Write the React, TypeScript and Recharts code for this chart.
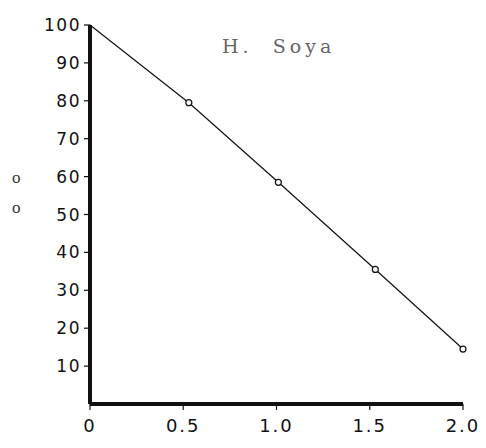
import { LineChart, Line, XAxis, YAxis } from 'recharts';

// dose and % surviving
const doses = [0, 0.53, 1.01, 1.53, 2.0];
const survival = [100, 79.5, 58.5, 35.5, 14.5];
const xTicks = [0, 0.5, 1, 1.5, 2];
const yTicks = [10, 20, 30, 40, 50, 60, 70, 80, 90, 100];
const xTickLabels = ['0', '0.5', '1.0', '1.5', '2.0'];
const title = 'H.  Soya';

const data = doses.map((d, i) => ({ dose: d, pct: survival[i] }));

const tickFont = "'DejaVu Sans', sans-serif";

function OpenDot(props: any) {
  const { cx, cy, index } = props;
  if (index === 0) return <g key={`d${index}`} />;
  return (
    <circle key={`d${index}`} cx={cx} cy={cy} r={3} fill="#fff" stroke="#111" strokeWidth={1.2} />
  );
}

export default function App() {
  return (
    <div style={{ position: 'absolute', left: 0, top: 0, width: 486, height: 448, background: '#fff' }}>
      <LineChart width={486} height={448} data={data} margin={{ top: 25, right: 23, bottom: 14, left: 30 }}>
        <XAxis
          dataKey="dose"
          type="number"
          domain={[0, 2]}
          ticks={xTicks}
          tickFormatter={(v: number) => xTickLabels[xTicks.indexOf(v)] ?? String(v)}
          axisLine={{ stroke: '#111', strokeWidth: 4 }}
          tickLine={{ stroke: '#111', strokeWidth: 1.2 }}
          tickSize={6}
          tickMargin={9}
          height={30}
          tick={{ fill: '#111', fontSize: 18, fontFamily: tickFont, letterSpacing: 2 }}
        />
        <YAxis
          type="number"
          domain={[0, 100]}
          ticks={yTicks}
          axisLine={{ stroke: '#111', strokeWidth: 4 }}
          tickLine={{ stroke: '#111', strokeWidth: 1.2 }}
          tickSize={6}
          tickMargin={3}
          width={60}
          tick={{ fill: '#111', fontSize: 17, fontFamily: tickFont, letterSpacing: 1.5 }}
        />
        <Line
          dataKey="pct"
          stroke="#111"
          strokeWidth={1.2}
          dot={OpenDot}
          activeDot={false}
          isAnimationActive={false}
        />
      </LineChart>
      <div
        style={{
          position: 'absolute',
          left: 222,
          top: 35,
          fontFamily: "'DejaVu Serif', serif",
          fontSize: 19,
          letterSpacing: 4,
          color: '#666',
          whiteSpace: 'pre',
        }}
      >
        {title}
      </div>
      <div style={{ position: 'absolute', left: 12, top: 168, fontFamily: 'serif', fontSize: 17, color: '#333' }}>o</div>
      <div style={{ position: 'absolute', left: 12, top: 198, fontFamily: 'serif', fontSize: 17, color: '#333' }}>o</div>
    </div>
  );
}
